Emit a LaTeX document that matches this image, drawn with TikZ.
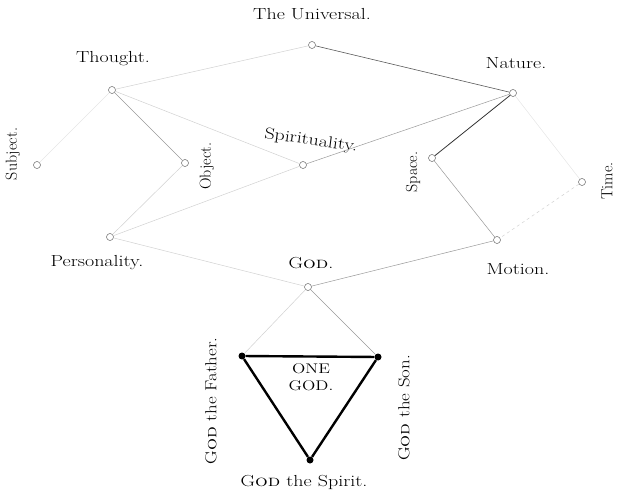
\documentclass[tikz,border=0pt]{standalone}
\usepackage{graphicx}
\newcommand{\hx}[1]{\scalebox{1.25}[1]{#1}}
\newcommand{\vx}[1]{\scalebox{1.18}[1]{#1}}
\begin{document}
\begin{tikzpicture}[x=1pt,y=-1pt,
  every node/.style={font=\fontsize{16}{19}\selectfont},
  dot/.style={circle,draw=black!60,fill=white,line width=0.5pt,inner sep=0pt,minimum size=7pt},
  bdot/.style={circle,fill=black,inner sep=0pt,minimum size=7pt},
  lbl/.style={inner sep=1pt},
  vlbl/.style={inner sep=1pt,rotate=90},
  vfaint/.style={draw=black!10,line width=0.5pt},
  faint/.style={draw=black!18,line width=0.5pt},
  light/.style={draw=black!40,line width=0.5pt},
  mid/.style={draw=black!65,line width=0.6pt},
  dark/.style={draw=black!80,line width=0.8pt},
  tri/.style={draw=black,line width=2.4pt}]
\useasboundingbox (0,0) rectangle (618,494);
% nodes
\node[dot] (univ) at (312,45) {};
\node[dot] (thought) at (112,90) {};
\node[dot] (nature) at (513,93) {};
\node[dot] (spirit) at (303,165) {};
\node[dot] (subject) at (37,165) {};
\node[dot] (object) at (185,163) {};
\node[dot] (space) at (432,158) {};
\node[dot] (time) at (582,182) {};
\node[dot] (motion) at (497,240) {};
\node[dot] (person) at (110,237) {};
\node[dot] (god) at (308,287) {};
\node[bdot] (father) at (242,356) {};
\node[bdot] (son) at (378,357) {};
\node[bdot] (gspirit) at (310,460) {};
% labels
\node[lbl] (lunivs) at (312,14) {\hx{The Universal.}};
\node[lbl] (lthought) at (113,59) {\hx{Thought.}};
\node[lbl] (lnature) at (516,63) {\hx{Nature.}};
\node[lbl,rotate=-8] (lspirit) at (311,141) {\hx{Spirituality.}};
\node[vlbl] (lsubject) at (13,154) {Subject.};
\node[vlbl] (lobject) at (207,166) {Object.};
\node[vlbl] (lspace) at (413,172) {Space.};
\node[vlbl] (ltime) at (607,181) {Time.};
\node[lbl] (lperson) at (97,263) {\hx{Personality.}};
\node[lbl] (lmotion) at (518,269) {\hx{Motion.}};
\node[lbl] (lgod) at (311,263) {\hx{G\textsc{od}.}};
\node[vlbl] (lfather) at (211,401) {\vx{G\textsc{od} the Father.}};
\node[vlbl] (lson) at (404,408) {\vx{G\textsc{od} the Son.}};
\node[lbl] (lgspirit) at (304,482) {\hx{G\textsc{od} the Spirit.}};
\node[lbl,align=center,font=\fontsize{14}{17}\selectfont] (onegod) at (311,377) {\hx{ONE}\\\hx{GOD.}};
% connectors
\draw[faint] (thought) -- (univ);
\draw[mid] (univ) -- (nature);
\draw[faint] (thought) -- (spirit);
\draw[light] (thought) -- (object);
\draw[vfaint] (thought) -- (subject);
\draw[faint] (object) -- (person);
\draw[faint] (spirit) -- (person);
\draw[light] (spirit) -- (nature);
\draw[dark] (nature) -- (space);
\draw[vfaint] (nature) -- (time);
\draw[light] (space) -- (motion);
\draw[faint,dashed] (time) -- (motion);
\draw[light] (motion) -- (god);
\draw[faint] (person) -- (god);
\draw[faint] (god) -- (father);
\draw[light] (god) -- (son);
\draw[tri] (father) -- (son);
\draw[tri] (son) -- (gspirit);
\draw[tri] (gspirit) -- (father);
\end{tikzpicture}
\end{document}
